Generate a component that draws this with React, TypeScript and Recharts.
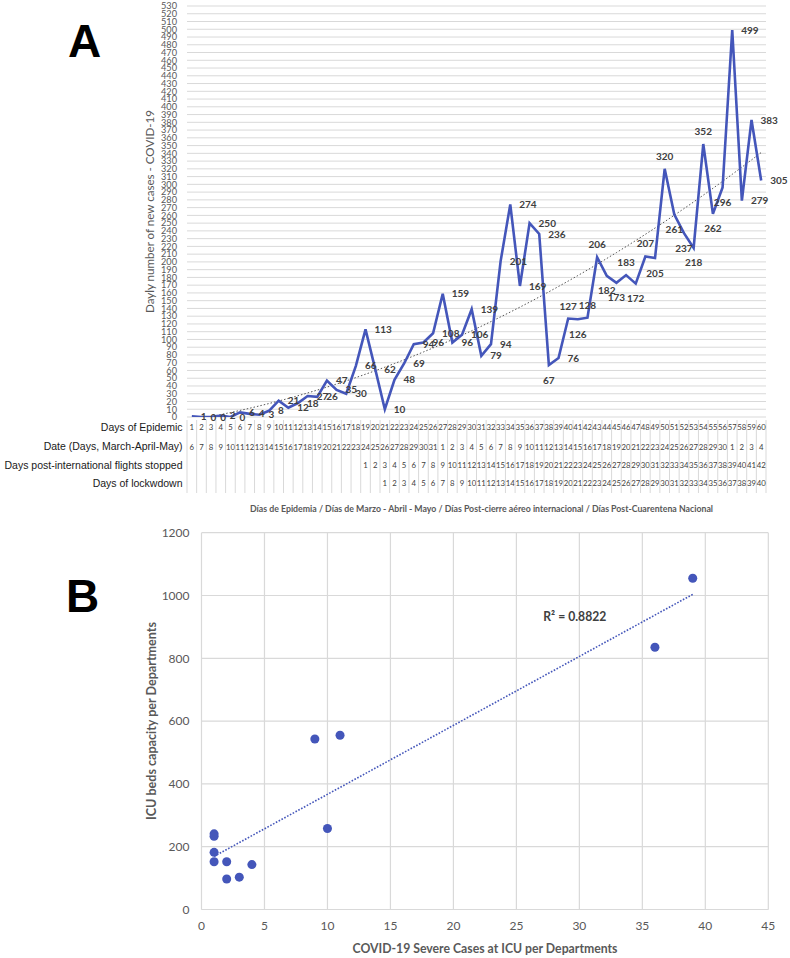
import React from 'react';
import {
  LineChart,
  Line,
  XAxis,
  YAxis,
  CartesianGrid,
  LabelList,
  ScatterChart,
  Scatter,
  ZAxis,
  ReferenceLine,
} from 'recharts';

// ---------- Panel A data ----------
const days = [
  1, 2, 3, 4, 5, 6, 7, 8, 9, 10, 11, 12, 13, 14, 15, 16, 17, 18, 19, 20,
  21, 22, 23, 24, 25, 26, 27, 28, 29, 30, 31, 32, 33, 34, 35, 36, 37, 38, 39, 40,
  41, 42, 43, 44, 45, 46, 47, 48, 49, 50, 51, 52, 53, 54, 55, 56, 57, 58, 59, 60,
];
const newCases = [
  1, 0, 0, 2, 0, 6, 4, 3, 8, 21, 12, 18, 27, 26, 47, 35, 30, 66, 113, 62,
  10, 48, 69, 94, 96, 108, 159, 96, 106, 139, 79, 94, 201, 274, 169, 250, 236, 67, 76, 127,
  126, 128, 206, 182, 173, 183, 172, 207, 205, 320, 261, 237, 218, 352, 262, 296, 499, 279, 383, 305,
];
const dateDays = [
  6, 7, 8, 9, 10, 11, 12, 13, 14, 15, 16, 17, 18, 19, 20, 21, 22, 23, 24, 25, 26, 27, 28, 29, 30, 31,
  1, 2, 3, 4, 5, 6, 7, 8, 9, 10, 11, 12, 13, 14, 15, 16, 17, 18, 19, 20, 21, 22, 23, 24, 25, 26, 27, 28, 29, 30,
  1, 2, 3, 4,
];
const flightDays = [
  null, null, null, null, null, null, null, null, null, null, null, null, null, null, null, null, null, null,
  1, 2, 3, 4, 5, 6, 7, 8, 9, 10, 11, 12, 13, 14, 15, 16, 17, 18, 19, 20, 21,
  22, 23, 24, 25, 26, 27, 28, 29, 30, 31, 32, 33, 34, 35, 36, 37, 38, 39, 40, 41, 42,
];
const lockdownDays = [
  null, null, null, null, null, null, null, null, null, null, null, null, null, null, null, null, null, null, null, null,
  1, 2, 3, 4, 5, 6, 7, 8, 9, 10, 11, 12, 13, 14, 15, 16, 17, 18, 19, 20,
  21, 22, 23, 24, 25, 26, 27, 28, 29, 30, 31, 32, 33, 34, 35, 36, 37, 38, 39, 40,
];
const yTicksA = [
  0, 10, 20, 30, 40, 50, 60, 70, 80, 90, 100, 110, 120, 130, 140, 150, 160, 170, 180, 190,
  200, 210, 220, 230, 240, 250, 260, 270, 280, 290, 300, 310, 320, 330, 340, 350, 360, 370, 380, 390,
  400, 410, 420, 430, 440, 450, 460, 470, 480, 490, 500, 510, 520, 530,
];
const rowHeaders = [
  'Days of Epidemic',
  'Date (Days, March-April-May)',
  'Days post-international flights stopped',
  'Days of lockwdown',
];

// ---------- Panel B data ----------
const icuCases = [1, 1, 1, 1, 2, 2, 3, 4, 9, 10, 11, 36, 39];
const icuBeds = [241, 233, 182, 152, 152, 97, 103, 143, 543, 258, 555, 835, 1055];
const xTicksB = [0, 5, 10, 15, 20, 25, 30, 35, 40, 45];
const yTicksB = [0, 200, 400, 600, 800, 1000, 1200];

// ---------- regression helpers (trendlines, as in the source spreadsheet) ----------
function fitQuadratic(xs: number[], ys: number[]) {
  const S = [0, 0, 0, 0, 0];
  const T = [0, 0, 0];
  xs.forEach((x, i) => {
    let p = 1;
    for (let k = 0; k < 5; k++) {
      S[k] += p;
      if (k < 3) T[k] += p * ys[i];
      p *= x;
    }
  });
  const M = [
    [S[0], S[1], S[2], T[0]],
    [S[1], S[2], S[3], T[1]],
    [S[2], S[3], S[4], T[2]],
  ];
  for (let c = 0; c < 3; c++) {
    for (let r = c + 1; r < 3; r++) {
      const f = M[r][c] / M[c][c];
      for (let k = c; k < 4; k++) M[r][k] -= f * M[c][k];
    }
  }
  const sol = [0, 0, 0];
  for (let r = 2; r >= 0; r--) {
    let s = M[r][3];
    for (let k = r + 1; k < 3; k++) s -= M[r][k] * sol[k];
    sol[r] = s / M[r][r];
  }
  return (x: number) => sol[0] + sol[1] * x + sol[2] * x * x;
}

function fitLinear(xs: number[], ys: number[]) {
  const n = xs.length;
  const mx = xs.reduce((a, b) => a + b, 0) / n;
  const my = ys.reduce((a, b) => a + b, 0) / n;
  let sxy = 0;
  let sxx = 0;
  xs.forEach((x, i) => {
    sxy += (x - mx) * (ys[i] - my);
    sxx += (x - mx) * (x - mx);
  });
  const b = sxy / sxx;
  const a = my - b * mx;
  return (x: number) => a + b * x;
}

const trendA = fitQuadratic(days, newCases);
const dataA = days.map((d, i) => ({ day: d, cases: newCases[i], trend: trendA(d) }));

const dataB = icuCases.map((x, i) => ({ x, y: icuBeds[i] }));
const trendB = fitLinear(icuCases, icuBeds);
const minX = Math.min(...icuCases);
const maxX = Math.max(...icuCases);

// ---------- styling ----------
const BLUE = '#4456BA';
const GRID = '#d9d9d9';
const CAL = 'Lato, "Open Sans", sans-serif';
const ARIAL = '"Liberation Sans", Arial, sans-serif';

const A_LEFT = 187;
const A_RIGHT = 766;
const A_BOTTOM = 417;
const CELL = (A_RIGHT - A_LEFT) / days.length;

const labelBelow = new Set([38, 41, 44, 45, 47, 49, 51, 52, 53, 55, 56]);
const labelAbove = new Set([40, 42, 43, 46, 48, 50, 54]);

const CaseLabel = (props: any) => {
  const { x, y, value, index } = props;
  const day = days[index];
  const common = {
    fontFamily: CAL,
    fontSize: 10,
    fontWeight: 700,
    fill: '#404040',
  };
  if (labelAbove.has(day)) {
    return (
      <text x={x} y={y - 9} textAnchor="middle" {...common}>
        {value}
      </text>
    );
  }
  if (labelBelow.has(day)) {
    return (
      <text x={x} y={y + 18.5} textAnchor="middle" {...common}>
        {value}
      </text>
    );
  }
  return (
    <text x={x + 9} y={y + 3.6} textAnchor="start" {...common}>
      {value}
    </text>
  );
};

const TableTick = (props: any) => {
  const { x, payload } = props;
  const i = days.indexOf(payload.value);
  const rows = [days[i], dateDays[i], flightDays[i], lockdownDays[i]];
  const centers = [427.3, 446.7, 465, 483.3];
  const left = x - CELL / 2;
  return (
    <g>
      <line x1={left} x2={left} y1={A_BOTTOM + 3} y2={493} stroke={GRID} strokeWidth={1} />
      {i === days.length - 1 && (
        <line x1={left + CELL} x2={left + CELL} y1={A_BOTTOM + 3} y2={493} stroke={GRID} strokeWidth={1} />
      )}
      {rows.map((v, r) =>
        v === null || v === undefined ? null : (
          <text
            key={r}
            x={x}
            y={centers[r] + 2.8}
            textAnchor="middle"
            fontFamily={CAL}
            fontSize={7.8}
            fill="#404040"
          >
            {v}
          </text>
        )
      )}
    </g>
  );
};

export default function App() {
  return (
    <div
      style={{
        position: 'absolute',
        left: 0,
        top: 0,
        width: 790,
        height: 958,
        background: '#fff',
        overflow: 'hidden',
      }}
    >
      {/* Panel A */}
      <div style={{ position: 'absolute', left: 0, top: 0 }}>
        <LineChart
          width={790}
          height={500}
          data={dataA}
          margin={{ top: 6, right: 790 - A_RIGHT, bottom: 0, left: 0 }}
        >
          <CartesianGrid horizontal vertical={false} stroke={GRID} strokeWidth={1} />
          <XAxis
            dataKey="day"
            type="number"
            domain={[0.5, 60.5]}
            ticks={days}
            interval={0}
            height={83}
            tickLine={false}
            axisLine={false}
            tickSize={0}
            tickMargin={0}
            tick={<TableTick />}
          />
          <YAxis
            type="number"
            domain={[0, 530]}
            ticks={yTicksA}
            interval={0}
            allowDataOverflow
            width={A_LEFT}
            tickLine={false}
            axisLine={false}
            tickSize={6}
            tickMargin={4}
            tick={{ fontFamily: CAL, fontSize: 9.2, fill: '#595959' }}
          />
          <Line
            dataKey="trend"
            type="linear"
            stroke="#555555"
            strokeWidth={1}
            strokeDasharray="1.5 2"
            dot={false}
            activeDot={false}
            isAnimationActive={false}
          />
          <Line
            dataKey="cases"
            type="linear"
            stroke={BLUE}
            strokeWidth={2.6}
            dot={false}
            activeDot={false}
            isAnimationActive={false}
          >
            <LabelList dataKey="cases" content={<CaseLabel />} />
          </Line>
        </LineChart>
      </div>

      {/* Panel B */}
      <div style={{ position: 'absolute', left: 0, top: 510 }}>
        <ScatterChart
          width={790}
          height={448}
          margin={{ top: 22.7, right: 21.7, bottom: 0, left: 0 }}
        >
          <CartesianGrid horizontal vertical stroke={GRID} strokeWidth={1.2} />
          <XAxis
            dataKey="x"
            type="number"
            domain={[0, 45]}
            ticks={xTicksB}
            interval={0}
            height={48.5}
            tickLine={false}
            axisLine={{ stroke: GRID, strokeWidth: 1.2 }}
            tickSize={6}
            tickMargin={6}
            tick={{ fontFamily: CAL, fontSize: 12, fill: '#595959' }}
          />
          <YAxis
            dataKey="y"
            type="number"
            domain={[0, 1200]}
            ticks={yTicksB}
            interval={0}
            width={201.5}
            tickLine={false}
            axisLine={false}
            tickSize={6}
            tickMargin={6}
            tick={{ fontFamily: CAL, fontSize: 12, fill: '#595959' }}
          />
          <ZAxis range={[40, 40]} />
          <ReferenceLine
            segment={[
              { x: minX, y: trendB(minX) },
              { x: maxX, y: trendB(maxX) },
            ]}
            stroke={BLUE}
            strokeWidth={1.6}
            strokeDasharray="1.6 1.6"
          />
          <Scatter data={dataB} fill={BLUE} isAnimationActive={false} />
        </ScatterChart>
      </div>

      {/* Annotations */}
      <svg
        width={790}
        height={958}
        style={{ position: 'absolute', left: 0, top: 0, pointerEvents: 'none' }}
      >
        <text x={68} y={56.7} fontFamily={ARIAL} fontWeight={700} fontSize={46} fill="#000">
          A
        </text>
        <text x={66} y={612} fontFamily={ARIAL} fontWeight={700} fontSize={46} fill="#000">
          B
        </text>
        <text
          transform="translate(154,211.5) rotate(-90)"
          textAnchor="middle"
          fontFamily={CAL}
          fontSize={12}
          fill="#595959"
          textLength={203}
          lengthAdjust="spacingAndGlyphs"
        >
          Dayly number of new cases - COVID-19
        </text>
        {rowHeaders.map((h, r) => (
          <text
            key={h}
            x={182.5}
            y={[430.8, 450.2, 468.5, 487][r]}
            textAnchor="end"
            fontFamily={ARIAL}
            fontSize={10.5}
            fill="#1a1a1a"
          >
            {h}
          </text>
        ))}
        <text
          x={250}
          y={512}
          fontFamily={CAL}
          fontWeight={700}
          fontSize={9}
          fill="#595959"
          textLength={463}
          lengthAdjust="spacingAndGlyphs"
        >
          Días de Epidemia / Días de Marzo - Abril - Mayo / Días Post-cierre aéreo internacional / Días Post-Cuarentena Nacional
        </text>
        <text
          transform="translate(156,721) rotate(-90)"
          textAnchor="middle"
          fontFamily={CAL}
          fontWeight={700}
          fontSize={13}
          fill="#595959"
          textLength={198}
          lengthAdjust="spacingAndGlyphs"
        >
          ICU beds capacity per Departments
        </text>
        <text
          x={485}
          y={953}
          textAnchor="middle"
          fontFamily={CAL}
          fontWeight={700}
          fontSize={13}
          fill="#595959"
          textLength={265}
          lengthAdjust="spacingAndGlyphs"
        >
          COVID-19 Severe Cases at ICU per Departments
        </text>
        <text
          x={543.3}
          y={620.5}
          fontFamily={CAL}
          fontWeight={700}
          fontSize={13}
          fill="#404040"
          textLength={63}
          lengthAdjust="spacingAndGlyphs"
        >
          R² = 0.8822
        </text>
      </svg>
    </div>
  );
}
